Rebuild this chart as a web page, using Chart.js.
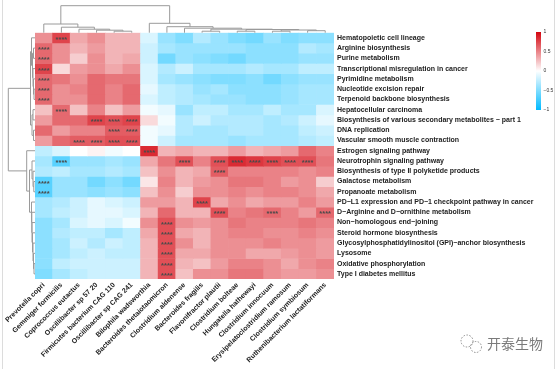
<!DOCTYPE html>
<html>
<head>
<meta charset="utf-8">
<script src="https://cdn.jsdelivr.net/npm/chart.js@4.4.0/dist/chart.umd.min.js"></script>
<style>
html,body{margin:0;padding:0;background:#fff;}
#wrap{width:558px;height:369px;position:relative;}
</style>
</head>
<body>
<div id="wrap"><canvas id="c" width="558" height="369"></canvas></div>
<script>
// ---------- data ----------
const colNames = ["Prevotella copri","Gemmiger formicilis","Coprococcus eutactus","Oscillibacter sp 57 20",
  "Firmicutes bacterium CAG 110","Oscillibacter sp CAG 241","Bilophila wadsworthia","Bacteroides thetaiotaomicron",
  "Clostridium aldenense","Bacteroides fragilis","Flavonifractor plautii","Clostridium bolteae",
  "Hungatella hathewayi","Clostridium innocuum","Erysipelatoclostridium ramosum","Clostridium symbiosum",
  "Ruthenibacterium lactatiformans"];

const rowNames = ["Hematopoietic cell lineage","Arginine biosynthesis","Purine metabolism",
  "Transcriptional misregulation in cancer","Pyrimidine metabolism","Nucleotide excision repair",
  "Terpenoid backbone biosynthesis","Hepatocellular carcinoma",
  "Biosynthesis of various secondary metabolites \u2212 part 1","DNA replication",
  "Vascular smooth muscle contraction","Estrogen signaling pathway","Neurotrophin signaling pathway",
  "Biosynthesis of type II polyketide products","Galactose metabolism","Propanoate metabolism",
  "PD\u2212L1 expression and PD\u22121 checkpoint pathway in cancer","D\u2212Arginine and D\u2212ornithine metabolism",
  "Non\u2212homologous end\u2212joining","Steroid hormone biosynthesis",
  "Glycosylphosphatidylinositol (GPI)\u2212anchor biosynthesis","Lysosome","Oxidative phosphorylation",
  "Type I diabetes mellitus"];

const corr = [
  [0.45,0.75,0.35,0.45,0.3,0.3,-0.15,-0.4,-0.5,-0.3,-0.4,-0.5,-0.55,-0.4,-0.5,-0.45,-0.45],
  [0.6,0.45,0.3,0.4,0.3,0.3,-0.2,-0.35,-0.4,-0.4,-0.4,-0.4,-0.45,-0.45,-0.45,-0.3,-0.35],
  [0.6,0.45,0.2,0.45,0.3,0.35,-0.2,-0.55,-0.4,-0.45,-0.5,-0.55,-0.45,-0.45,-0.45,-0.4,-0.4],
  [0.75,0.15,0.4,0.45,0.35,0.45,-0.15,-0.3,-0.2,-0.35,-0.35,-0.35,-0.3,-0.35,-0.35,-0.25,-0.25],
  [0.6,0.55,0.45,0.6,0.55,0.55,-0.15,-0.35,-0.4,-0.45,-0.5,-0.5,-0.45,-0.55,-0.45,-0.4,-0.4],
  [0.6,0.45,0.5,0.6,0.5,0.6,-0.1,-0.25,-0.3,-0.4,-0.35,-0.45,-0.45,-0.45,-0.4,-0.35,-0.35],
  [0.6,0.45,0.45,0.6,0.5,0.6,-0.15,-0.25,-0.3,-0.35,-0.4,-0.4,-0.45,-0.45,-0.4,-0.35,-0.35],
  [0.25,0.6,0.25,0.5,0.25,0.4,-0.05,-0.1,-0.4,-0.25,-0.25,-0.35,-0.35,-0.25,-0.35,-0.35,-0.15],
  [0.4,0.6,0.6,0.75,0.7,0.75,0.15,-0.05,-0.3,-0.2,-0.3,-0.3,-0.3,-0.35,-0.3,-0.2,-0.1],
  [0.6,0.4,0.5,0.5,0.65,0.65,-0.05,-0.1,-0.3,-0.35,-0.35,-0.3,-0.3,-0.35,-0.35,-0.25,-0.2],
  [0.4,0.6,0.65,0.65,0.7,0.7,-0.05,-0.2,-0.35,-0.35,-0.35,-0.4,-0.35,-0.35,-0.35,-0.3,-0.25],
  [-0.25,-0.15,0,0.05,-0.05,0,0.85,0.3,0.35,0.3,0.3,0.4,0.3,0.35,0.4,0.6,0.5],
  [-0.35,-0.65,-0.4,-0.4,-0.35,-0.4,0.35,0.55,0.7,0.5,0.7,0.85,0.8,0.75,0.7,0.7,0.55],
  [-0.3,-0.25,-0.35,-0.35,-0.3,-0.35,0.25,0.45,0.3,0.35,0.65,0.5,0.5,0.5,0.5,0.45,0.5],
  [-0.65,-0.4,-0.4,-0.55,-0.45,-0.55,0.1,0.5,0.3,0.4,0.45,0.55,0.55,0.5,0.4,0.45,0.2],
  [-0.65,-0.4,-0.4,-0.45,-0.4,-0.45,0.25,0.45,0.2,0.45,0.45,0.5,0.45,0.5,0.5,0.45,0.35],
  [-0.35,-0.3,-0.2,-0.1,-0.15,-0.2,0.4,0.4,0.3,0.75,0.35,0.45,0.35,0.4,0.4,0.5,0.4],
  [-0.35,-0.25,-0.2,-0.1,-0.1,-0.15,0.3,0.6,0.3,0.3,0.7,0.5,0.55,0.6,0.5,0.4,0.6],
  [-0.45,-0.35,-0.15,-0.1,-0.15,-0.05,0.45,0.7,0.45,0.4,0.45,0.55,0.5,0.5,0.5,0.55,0.5],
  [-0.45,-0.3,-0.25,-0.25,-0.35,-0.25,0.35,0.7,0.35,0.3,0.45,0.5,0.5,0.45,0.45,0.5,0.45],
  [-0.45,-0.35,-0.2,-0.3,-0.2,-0.25,0.3,0.7,0.45,0.3,0.45,0.45,0.45,0.5,0.45,0.45,0.4],
  [-0.45,-0.35,-0.25,-0.2,-0.25,-0.25,0.3,0.7,0.35,0.35,0.45,0.45,0.35,0.35,0.4,0.45,0.4],
  [-0.45,-0.25,-0.2,-0.2,-0.2,-0.2,0.3,0.7,0.3,0.25,0.4,0.5,0.5,0.45,0.35,0.45,0.5],
  [-0.5,-0.35,-0.25,-0.2,-0.2,-0.2,0.3,0.7,0.25,0.45,0.45,0.55,0.55,0.45,0.4,0.4,0.45]
];

// significant cells [row, col] marked "****"
const stars = [[0,1],[1,0],[2,0],[3,0],[4,0],[5,0],[6,0],[7,1],[8,3],[8,4],[8,5],[9,4],[9,5],
  [10,2],[10,3],[10,4],[10,5],[11,6],[12,1],[12,8],[12,10],[12,11],[12,12],[12,13],[12,14],[12,15],
  [13,10],[14,0],[15,0],[16,9],[17,10],[17,13],[17,16],[18,7],[19,7],[20,7],[21,7],[22,7],[23,7]];

// column clustering: leaves >= 0, merge k referenced as -(k+1)
const colMerge = [[4,5],[3,-1],[2,-2],[1,-3],[0,-4],[15,16],[13,14],[-7,-6],[11,12],[-9,-8],
  [9,10],[-11,-10],[8,-12],[7,-13],[6,-14],[-5,-15]];
const colHeight = [1.5,2.5,3.5,5.5,8.7,2,1.5,2.7,1.5,3.2,1.5,3.5,4.5,6,9.4,27];

// row clustering
const rowMerge = [[5,6],[4,-1],[3,-2],[1,2],[-4,-3],[0,-5],[9,10],[7,8],[-8,-7],[-6,-9],
  [14,15],[13,-11],[12,-12],[22,23],[21,-14],[20,-15],[19,-16],[18,-17],[17,-18],[16,-19],
  [-13,-20],[11,-21],[-10,-22]];
const rowHeight = [1,1.5,2,1.5,2.5,3.5,1.5,2,3,4.5,1.2,2,3,1,1.5,2,2.5,3,3.2,3.5,5.5,8.3,26.7];

const legendTicks = [1,0.5,0,-0.5,-1];

// ---------- colours ----------
function colorFor(v){
  let r,g,b;
  if (v >= 0){ const t=Math.min(v,1); r=255+(212-255)*t; g=255+(5-255)*t; b=255+(15-255)*t; }
  else { const t=Math.min(-v,1); r=255*(1-t); g=255+(186-255)*t; b=255; }
  return `rgb(${Math.round(r)},${Math.round(g)},${Math.round(b)})`;
}

const datasets = rowNames.map((name, r) => ({
  label: name,
  data: colNames.map(() => 1),
  backgroundColor: corr[r].map(colorFor),
  borderWidth: 0,
  barPercentage: 1,
  categoryPercentage: 1
}));

const FONT = '"Liberation Sans", Arial, sans-serif';

// ---------- decoration plugin ----------
function drawDendro(ctx, merges, heights, leafPos, hToPix, vertical){
  const pos = [];
  const posOf = (n) => n >= 0 ? leafPos(n) : pos[-n-1];
  const hOf = (n) => n >= 0 ? 0 : heights[-n-1];
  ctx.beginPath();
  merges.forEach((m, k) => {
    const pa = posOf(m[0]), pb = posOf(m[1]);
    pos[k] = (pa + pb) / 2;
    const hp = hToPix(heights[k]);
    const ha = hToPix(hOf(m[0])), hb = hToPix(hOf(m[1]));
    if (vertical){
      ctx.moveTo(pa, ha); ctx.lineTo(pa, hp); ctx.lineTo(pb, hp); ctx.lineTo(pb, hb);
    } else {
      ctx.moveTo(ha, pa); ctx.lineTo(hp, pa); ctx.lineTo(hp, pb); ctx.lineTo(hb, pb);
    }
  });
  ctx.stroke();
}

const deco = {
  id: 'deco',
  afterDatasetsDraw(chart){
    const ctx = chart.ctx, xs = chart.scales.x, ys = chart.scales.y;
    ctx.save();
    ctx.fillStyle = '#4a4a4a';
    ctx.font = 'bold 7.5px ' + FONT;
    ctx.textAlign = 'center';
    ctx.textBaseline = 'middle';
    stars.forEach(([r, c]) => {
      ctx.fillText('****', xs.getPixelForValue(c), ys.getPixelForValue(r + 0.5) + 2);
    });
    ctx.restore();
  },
  afterDraw(chart){
    const ctx = chart.ctx, xs = chart.scales.x, ys = chart.scales.y, ca = chart.chartArea;
    ctx.save();
    ctx.strokeStyle = '#9a9a9a';
    ctx.lineWidth = 1;
    const colRoot = Math.max(...colHeight), topY = 5.7;
    drawDendro(ctx, colMerge, colHeight, i => xs.getPixelForValue(i),
      h => ca.top - h / colRoot * (ca.top - topY), true);
    const rowRoot = Math.max(...rowHeight), leftX = 8.3;
    drawDendro(ctx, rowMerge, rowHeight, i => ys.getPixelForValue(i + 0.5),
      h => ca.left - h / rowRoot * (ca.left - leftX), false);

    // colour bar
    const cbX = 536, cbW = 5, cbTop = 32, cbBot = 110;
    const grad = ctx.createLinearGradient(0, cbTop, 0, cbBot);
    for (let i = 0; i <= 20; i++){
      grad.addColorStop(i / 20, colorFor(1 - i / 10));
    }
    ctx.fillStyle = grad;
    ctx.fillRect(cbX, cbTop, cbW, cbBot - cbTop);
    ctx.fillStyle = '#333';
    ctx.font = '5px ' + FONT;
    ctx.textAlign = 'left';
    ctx.textBaseline = 'middle';
    legendTicks.forEach(v => {
      const y = cbTop + (1 - v) / 2 * (cbBot - cbTop);
      ctx.fillText(v === 0 ? '0' : (v < 0 ? '\u2212' + (-v) : String(v)), cbX + cbW + 2.5, y);
    });

    // frame lines
    ctx.strokeStyle = '#dcdcdc';
    ctx.beginPath();
    ctx.moveTo(2.5, 0); ctx.lineTo(2.5, 369);
    ctx.moveTo(554.5, 0); ctx.lineTo(554.5, 369);
    ctx.stroke();

    // watermark
    ctx.strokeStyle = '#8a8a8a';
    ctx.lineWidth = 1;
    ctx.setLineDash([1.5, 1.5]);
    ctx.beginPath(); ctx.arc(467, 341, 6, 0, Math.PI * 2); ctx.stroke();
    ctx.beginPath(); ctx.arc(476, 347, 5.5, 0, Math.PI * 2); ctx.stroke();
    ctx.setLineDash([]);
    ctx.fillStyle = '#7a7a7a';
    ctx.font = '14px "Noto Sans CJK SC", sans-serif';
    ctx.textAlign = 'left';
    ctx.textBaseline = 'middle';
    ctx.fillText('开泰生物', 487, 344);
    ctx.restore();
  }
};

new Chart(document.getElementById('c'), {
  type: 'bar',
  data: { labels: colNames, datasets },
  options: {
    responsive: false,
    animation: false,
    events: [],
    layout: { padding: { top: 32.7, left: 35, right: 0, bottom: 0 } },
    plugins: { legend: { display: false }, tooltip: { enabled: false } },
    scales: {
      x: {
        stacked: true,
        offset: true,
        grid: { display: false, drawTicks: false },
        border: { display: false },
        ticks: {
          autoSkip: false, minRotation: 45, maxRotation: 45, padding: 2,
          color: '#222', font: { family: FONT, size: 7, weight: 'bold' }
        },
        afterFit: s => { s.height = 90; }
      },
      y: {
        stacked: true, min: 0, max: rowNames.length, reverse: true, display: false
      },
      y2: {
        type: 'category',
        labels: rowNames,
        position: 'right',
        offset: true,
        grid: { display: false, drawTicks: false },
        border: { display: false },
        ticks: {
          autoSkip: false, padding: 3,
          color: '#222', font: { family: FONT, size: 7, weight: 'bold' }
        },
        afterFit: s => { s.width = 224; }
      }
    }
  },
  plugins: [deco]
});
</script>
</body>
</html>
